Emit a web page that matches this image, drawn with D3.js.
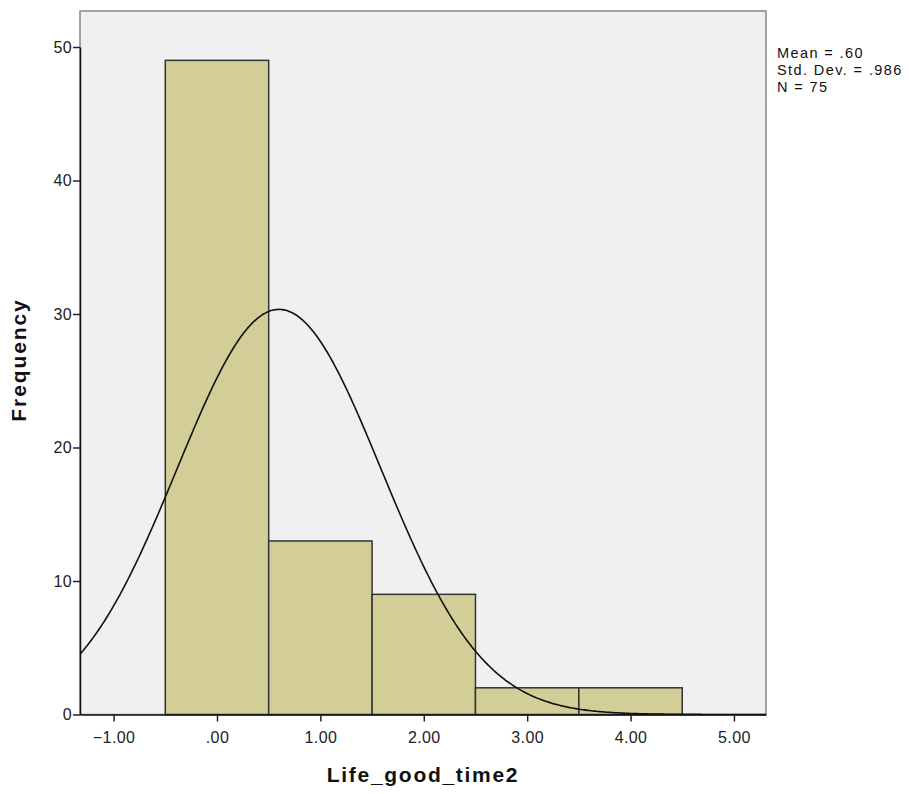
<!DOCTYPE html>
<html>
<head>
<meta charset="utf-8">
<script src="https://cdn.jsdelivr.net/npm/d3@7"></script>
<style>
  body { margin: 0; background: #fff; }
  svg { display: block; font-family: Arial, "Liberation Sans", sans-serif; }
</style>
</head>
<body>
<svg id="chart" width="909" height="794"></svg>
<script>
// Histogram of Life_good_time2 with a fitted normal curve
const binStarts = [-0.5, 0.5, 1.5, 2.5, 3.5];
const binWidth = 1;
const frequencies = [49, 13, 9, 2, 2];
const xTicks = [-1, 0, 1, 2, 3, 4, 5];
const yTicks = [0, 10, 20, 30, 40, 50];
const stats = { mean: 0.60, sd: 0.986, n: 75 };
const statLines = ["Mean = .60", "Std. Dev. = .986", "N = 75"];

const svg = d3.select("#chart");
const m = { left: 80, top: 11, right: 766, bottom: 714.5 };

const x = d3.scaleLinear().domain([-1.325, 5.31]).range([m.left, m.right]);
const y = d3.scaleLinear().domain([0, 50]).range([m.bottom, 47]);

// plot area background and frame
svg.append("rect")
  .attr("x", m.left).attr("y", m.top)
  .attr("width", m.right - m.left).attr("height", m.bottom - m.top)
  .attr("fill", "#f0f0f0")
  .attr("stroke", "#888").attr("stroke-width", 1.5);

// bars
svg.append("g").selectAll("rect")
  .data(binStarts.map((s, i) => ({ s, f: frequencies[i] })))
  .join("rect")
  .attr("x", d => x(d.s))
  .attr("y", d => y(d.f))
  .attr("width", d => x(d.s + binWidth) - x(d.s))
  .attr("height", d => y(0) - y(d.f))
  .attr("fill", "#d3ce97")
  .attr("stroke", "#333")
  .attr("stroke-width", 1.5);

// normal curve scaled to counts
const pdf = v => Math.exp(-0.5 * ((v - stats.mean) / stats.sd) ** 2) / (stats.sd * Math.sqrt(2 * Math.PI));
const xs = d3.range(0, 401).map(i => -1.325 + i * (5.31 + 1.325) / 400);
svg.append("path")
  .datum(xs)
  .attr("fill", "none")
  .attr("stroke", "#111")
  .attr("stroke-width", 1.6)
  .attr("d", d3.line().x(v => x(v)).y(v => y(stats.n * binWidth * pdf(v))));

// axes
const fmtX = v => v === 0 ? ".00" : d3.format(".2f")(v);
const xAxis = svg.append("g")
  .attr("transform", `translate(0,${m.bottom})`)
  .call(d3.axisBottom(x).tickValues(xTicks).tickFormat(fmtX).tickSize(7).tickSizeOuter(0));
const yAxis = svg.append("g")
  .attr("transform", `translate(${m.left},0)`)
  .call(d3.axisLeft(y).tickValues(yTicks).tickFormat(d3.format("d")).tickSize(7).tickSizeOuter(0));

[xAxis, yAxis].forEach(a => {
  a.select(".domain").attr("stroke", "#111").attr("stroke-width", 1.5);
  a.selectAll(".tick line").attr("stroke", "#222").attr("stroke-width", 1.5);
  a.selectAll(".tick text").attr("fill", "#222").style("font-size", "16px")
    .style("letter-spacing", "0.4px")
    .style("font-family", "Arial, 'Liberation Sans', sans-serif");
});
xAxis.selectAll(".tick text").attr("dy", "1.15em");
yAxis.selectAll(".tick text").attr("x", -8);

// axis titles
svg.append("text")
  .attr("x", 423).attr("y", 782)
  .attr("text-anchor", "middle")
  .style("font-size", "21px").style("font-weight", "bold").style("letter-spacing", "1.7px")
  .attr("fill", "#111")
  .text("Life_good_time2");

svg.append("text")
  .attr("transform", `translate(26,360) rotate(-90)`)
  .attr("text-anchor", "middle")
  .style("font-size", "21px").style("font-weight", "bold").style("letter-spacing", "1.9px")
  .attr("fill", "#111")
  .text("Frequency");

// summary statistics
svg.append("g").selectAll("text")
  .data(statLines)
  .join("text")
  .attr("x", 777)
  .attr("y", (d, i) => 58 + i * 17)
  .style("font-size", "14.5px").style("letter-spacing", "1.4px")
  .attr("fill", "#111")
  .text(d => d);
</script>
</body>
</html>
